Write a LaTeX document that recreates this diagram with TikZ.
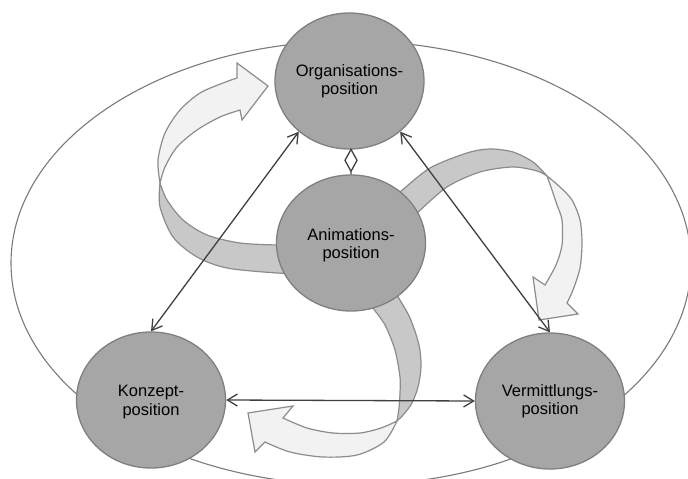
\documentclass[tikz,border=0pt]{standalone}
\usepackage{fontspec}
\setmainfont{Liberation Sans}
\usetikzlibrary{shapes.geometric, arrows.meta}

\definecolor{circfill}{HTML}{A6A6A6}
\definecolor{circedge}{HTML}{7F7F7F}
\definecolor{bandedge}{HTML}{8C8C8C}
\definecolor{bandback}{HTML}{C8C8C8}
\definecolor{bandfront}{HTML}{F2F2F2}
\definecolor{linkgray}{HTML}{404040}
\definecolor{framegray}{HTML}{7A7A7A}

\tikzset{
  rolle/.style={ellipse, draw=circedge, fill=circfill, line width=1.3pt,
    minimum width=149pt, minimum height=136pt, inner sep=0pt},
  rolletext/.style={align=center, inner sep=0pt, text=black,
    font=\fontsize{16.5}{18.5}\selectfont},
  backside/.style={fill=bandback, draw=bandedge, line width=1.2pt, line join=round},
  frontside/.style={fill=bandfront, draw=bandedge, line width=1.2pt, line join=miter},
  link/.style={draw=linkgray, line width=1.3pt, <->,
    >={Straight Barb[length=10pt,width=12pt]}},
  frame/.style={draw=framegray, line width=1.1pt}
}

\begin{document}
\begin{tikzpicture}[x=1pt, y=-1pt]
  \useasboundingbox[fill=white] (0,0) rectangle (688,479);

  % surrounding frame
  \draw[frame] (351,263) ellipse [x radius=340, y radius=222];

  % ribbon on the left: from the centre round to the top
  \filldraw[backside] plot[smooth] coordinates {(300,245) (277,245) (240,243) (207,235) (183,220) (167,200) (160,183)}
    -- plot[smooth] coordinates {(160,183) (160,207) (173,237) (197,257) (227,268) (277,273) (300,273)} -- cycle;
  \filldraw[frontside] plot[smooth] coordinates {(160,183) (158,160) (165,133) (180,110) (200,93) (223,83) (237,78)}
    -- (237,63) -- (268,86) -- (242,120)
    -- plot[smooth] coordinates {(240,110) (220,117) (197,130) (177,147) (165,167) (160,183)} -- cycle;

  % ribbon on the right: from the centre round to the lower right
  \filldraw[backside] plot[smooth] coordinates {(385,204) (400,192) (430,168) (467,153) (490,149) (513,152) (533,162) (547,176)}
    -- plot[smooth] coordinates {(547,176) (537,171) (513,167) (480,172) (447,187) (417,213) (400,228)} -- cycle;
  \filldraw[frontside] plot[smooth] coordinates {(547,176) (560,187) (572,200) (580,220) (582,243) (580,268) (573,290) (567,303)}
    -- (578,314) -- (539,320) -- (533,277)
    -- plot[smooth] coordinates {(545,285) (556,265) (562,245) (562,220) (557,205) (552,190) (547,176)} -- cycle;

  % ribbon at the bottom: from the centre round to the lower left
  \filldraw[backside] plot[smooth] coordinates {(365,295) (373,308) (385,325) (395,350) (400,377) (400,393) (399,408) (397,421)}
    -- plot[smooth] coordinates {(397,421) (404,414) (412,403) (418,387) (421,367) (419,345) (410,318) (397,295) (390,282)} -- cycle;
  \filldraw[frontside] plot[smooth] coordinates {(397,421) (381,428) (360,433) (333,433) (307,428) (283,418)}
    -- (293,406) -- (248,413) -- (255,452)
    -- plot[smooth] coordinates {(265,442) (290,452) (323,457) (357,455) (384,442) (397,421)} -- cycle;

  % the four positions
  \node[rolle, label={[rolletext]center:Organisations-\\position}] (org) at (349.5,81) {};
  \node[rolle, label={[rolletext, yshift=-2pt]center:Animations-\\position}] (anim) at (351,243) {};
  \node[rolle, label={[rolletext, yshift=-2pt]center:Konzept-\\position}] (konz) at (151,400) {};
  \node[rolle, label={[rolletext]center:Vermittlungs-\\position}] (verm) at (550,401) {};

  % relations
  \draw[link] (konz.north) -- (org.225);
  \draw[link] (verm.north) -- (org.-45);
  \draw[link] (konz.east) -- (verm.west);
  % open diamond between animation and organisation
  \draw[draw=linkgray, line width=1.3pt, line join=miter]
    (anim.north) -- ++(0,-3) -- ++(-6,-11) -- ++(6,-11) -- ++(6,11) -- ++(-6,11) -- ++(-0.1,0);
\end{tikzpicture}
\end{document}
